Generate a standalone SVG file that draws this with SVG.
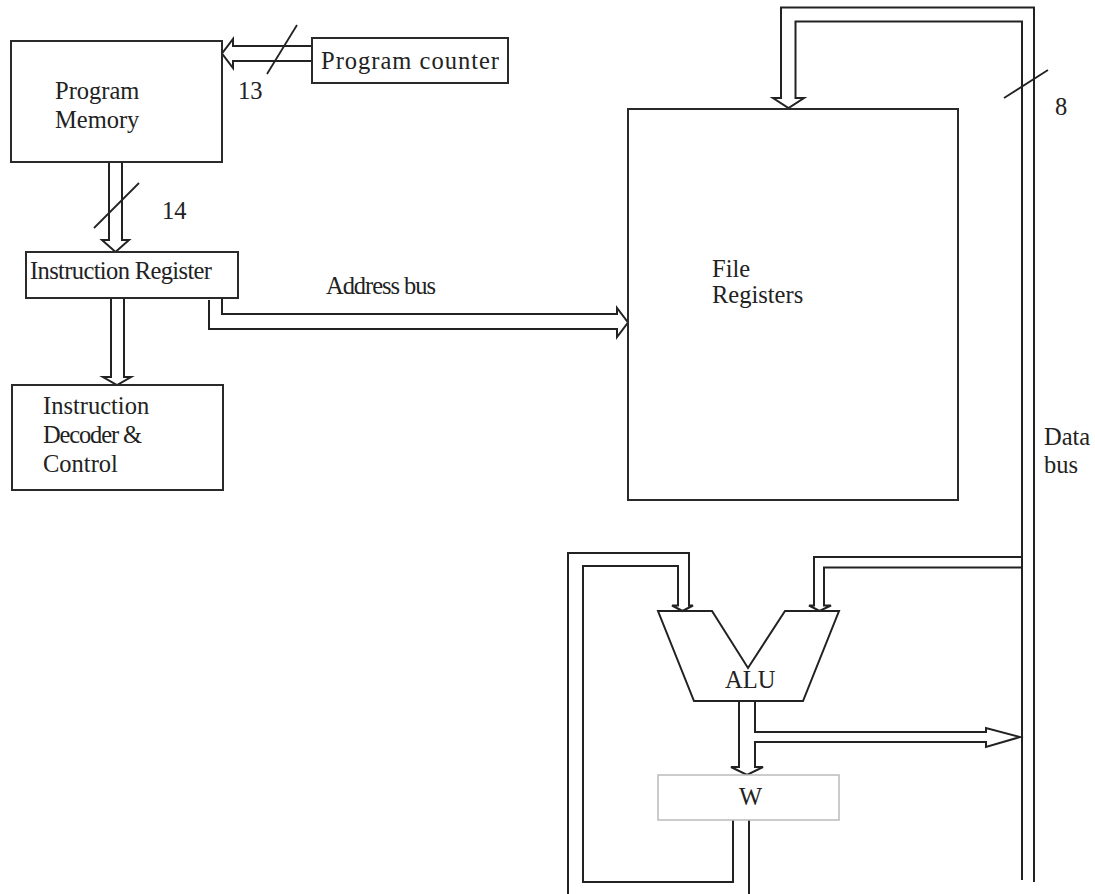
<svg xmlns="http://www.w3.org/2000/svg" width="1095" height="894" viewBox="0 0 1095 894">
<style>
.box{fill:#fff;stroke:#2a2a2a;stroke-width:2}
.wbox{fill:#fff;stroke:#bbbbbb;stroke-width:1.5}
.bus{fill:none;stroke:#222;stroke-width:2;stroke-linejoin:miter}
.tick{fill:none;stroke:#222;stroke-width:1.8}
text{font-family:"Liberation Serif","Times New Roman",serif;font-size:24.5px;fill:#222}
</style>
<rect width="1095" height="894" fill="#fff"/>
<g id="connectors">
<path class="bus" d="M312,46 H233 V39 L222,53.5 L233,68 V61 H312"/>
<path class="bus" d="M109,162 V240 H102 L115.5,252 L129,240 H122 V162"/>
<path class="bus" d="M111,298 V377 H103 L117,385 L131,377 H124 V298"/>
<path class="bus" d="M209,300 V329 H617 V337 L628,322.5 L617,308 V314 H222 V298"/>
<path class="bus" d="M1034,882 V7.5 H781 V98 H773 L788.5,108 L804,98 H795.5 V21.5 H1022 V880"/>
<path class="bus" d="M1022,557 H814 V605.5 H809 L819.5,611 L831,605.5 H824 V567.5 H1022"/>
<path class="bus" d="M568,894 V553 H689 V605.5 H693 L682.5,611 L672,605.5 H678 V566 H583 V882 H733 V820"/>
<path class="bus" d="M749,820 V894"/>
<path class="bus" d="M739,701 V767 H731 L747,775 L763,767 H755 V742 H986 V747 L1020,737 L986,728 V732 H755 V701"/>
<line class="tick" x1="267" y1="74" x2="297" y2="25"/>
<line class="tick" x1="94" y1="228" x2="139" y2="183"/>
<line class="tick" x1="1004" y1="98" x2="1048" y2="70"/>
</g>
<g id="program-memory">
<rect class="box" x="11" y="41" width="211" height="121"/>
<text x="55" y="99">Program</text>
<text x="55" y="128">Memory</text>
</g>
<g id="program-counter">
<rect class="box" x="312" y="38" width="196" height="45"/>
<text x="321" y="69" textLength="178" lengthAdjust="spacing">Program counter</text>
</g>
<g id="instruction-register">
<rect class="box" x="26" y="252" width="212" height="46"/>
<text x="30" y="279" textLength="182" lengthAdjust="spacing">Instruction Register</text>
</g>
<g id="instruction-decoder">
<rect class="box" x="12" y="385" width="211" height="105"/>
<text x="43" y="414">Instruction</text>
<text x="43" y="443" textLength="99" lengthAdjust="spacing">Decoder &amp;</text>
<text x="43" y="472">Control</text>
</g>
<g id="file-registers">
<rect class="box" x="628" y="109" width="330" height="391"/>
<text x="712" y="277">File</text>
<text x="712" y="303">Registers</text>
</g>
<g id="alu">
<path class="bus" d="M658,611 H712 L748,668 L785,611 H839 L803,701 H694 Z" fill="#fff"/>
<text x="725" y="688">ALU</text>
</g>
<g id="w-register">
<rect class="wbox" x="658" y="775" width="181" height="45"/>
<text x="739" y="805">W</text>
</g>
<g id="labels">
<text x="238" y="99">13</text>
<text x="162" y="219">14</text>
<text x="1055" y="115">8</text>
<text x="326" y="294" textLength="110" lengthAdjust="spacing">Address bus</text>
<text x="1044" y="445">Data</text>
<text x="1044" y="473">bus</text>
</g>
</svg>
